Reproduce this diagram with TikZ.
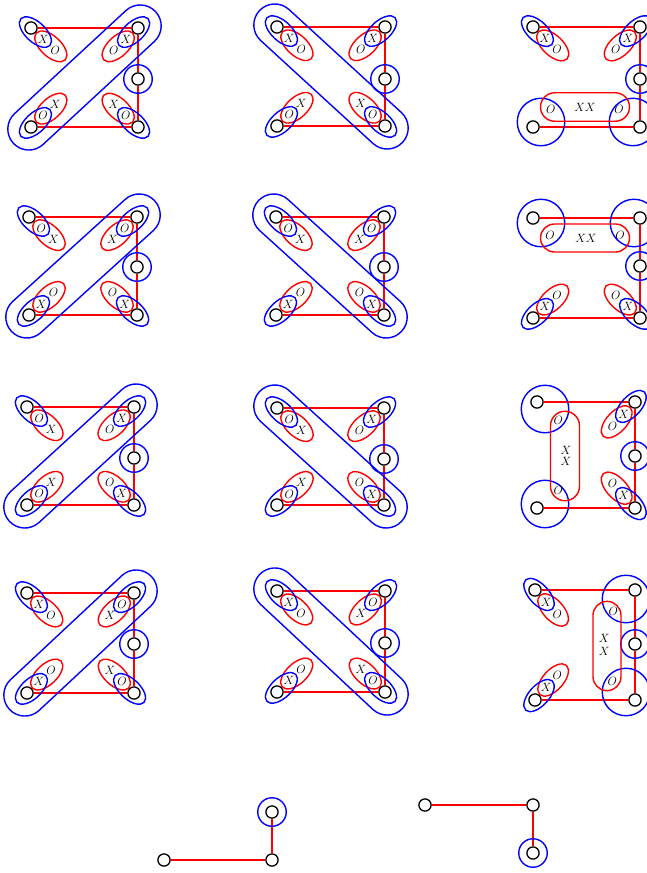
\documentclass[tikz,border=0pt]{standalone}
\usetikzlibrary{calc,shapes.geometric,shapes.misc}
\tikzset{
 vtx/.style={circle, draw=black, fill=white, line width=1.3pt, minimum size=12.2pt, inner sep=0pt},
 redge/.style={draw=red, line width=1.4pt},
 redell/.style={ellipse, draw=red, line width=1.4pt, minimum width=39.5pt, minimum height=20.5pt, inner sep=0pt},
 blueell/.style={ellipse, draw=blue, line width=1.4pt, minimum width=39.5pt, minimum height=20pt, inner sep=0pt},
 bigstad/.style={rounded rectangle, draw=blue, line width=1.4pt, minimum height=42pt, inner sep=0pt},
 redstad/.style={rounded rectangle, draw=red, line width=1.4pt, inner sep=0pt},
 bluecirc/.style={circle, draw=blue, line width=1.4pt, inner sep=0pt},
 midcirc/.style={bluecirc, minimum size=28.5pt},
 bigcirc/.style={bluecirc, minimum size=47.5pt},
 lab/.style={inner sep=0pt, font=\fontsize{11.5}{12}\selectfont},
}
% panel: name, xL, xR, yT, yB, xM, yM
\newcommand{\pnl}[7]{%
 \node[vtx] (#1TL) at (#2,#4) {};
 \node[vtx] (#1TR) at (#3,#4) {};
 \node[vtx] (#1M) at (#6,#7) {};
 \node[vtx] (#1BL) at (#2,#5) {};
 \node[vtx] (#1BR) at (#3,#5) {};
 \coordinate (#1C) at ($(#1TL)!0.5!(#1BR)$);
 \draw[redge] (#1TL) -- (#1TR);
 \draw[redge] (#1TR) -- (#1M);
 \draw[redge] (#1M) -- (#1BR);
 \draw[redge] (#1BR) -- (#1BL);
 \node[midcirc] (#1Mc) at (#1M) {};
}
% corner: vertex, centre, near label, far label
\newcommand{\crn}[4]{%
 \path let \p1=($(#2)-(#1)$), \n1={atan2(\y1,\x1)} in
  node[redell, rotate=\n1] (#1r) at ($(#1)!27pt!(#2)$) {}
  node[blueell, rotate=\n1] (#1b) at ($(#1)!6pt!(#2)$) {}
  node[lab] (#1n) at ($(#1)!16.5pt!(#2)$) {$#3$}
  node[lab] (#1f) at ($(#1)!33pt!(#2)$) {$#4$};
}
% big blue stadium from vertex to vertex
\newcommand{\stad}[2]{%
 \path let \p1=($(#2)-(#1)$), \n1={atan2(\y1,\x1)}, \n2={veclen(\x1,\y1)} in
  node[bigstad, rotate=\n1, minimum width=\n2+48pt] (#1#2s) at ($(#1)!0.5!(#2)$) {};
}
\begin{document}
\begin{tikzpicture}[x=1pt,y=-1pt]
\clip (0,0) rectangle (647,873);
\fill[white] (0,0) rectangle (647,873);

% row 1
\pnl{a}{31}{138}{28}{127}{138}{79}
\crn{aTL}{aC}{X}{O}\crn{aTR}{aC}{X}{O}\crn{aBL}{aC}{O}{X}\crn{aBR}{aC}{O}{X}
\stad{aBL}{aTR}

\pnl{b}{277}{385}{27}{126}{385}{79}
\crn{bTL}{bC}{X}{O}\crn{bTR}{bC}{X}{O}\crn{bBL}{bC}{O}{X}\crn{bBR}{bC}{O}{X}
\stad{bTL}{bBR}

\pnl{c}{533}{640}{27}{127}{640}{79}
\crn{cTL}{cC}{X}{O}\crn{cTR}{cC}{X}{O}
\node[bigcirc] (cBLc) at (541,122) {};
\node[bigcirc] (cBRc) at (633,122) {};
\node[redstad, minimum width=89pt, minimum height=28.5pt] (cst) at (585,107) {};
\node[lab] (co1) at (550.7,109.7) {$O$};
\node[lab] (cxx) at (585,107.3) {$XX$};
\node[lab] (co2) at (619,109.7) {$O$};

% row 2
\pnl{d}{29}{137}{217}{315}{137}{267}
\crn{dTL}{dC}{O}{X}\crn{dTR}{dC}{O}{X}\crn{dBL}{dC}{X}{O}\crn{dBR}{dC}{X}{O}
\stad{dBL}{dTR}

\pnl{e}{276}{384}{217}{315}{384}{267}
\crn{eTL}{eC}{O}{X}\crn{eTR}{eC}{O}{X}\crn{eBL}{eC}{X}{O}\crn{eBR}{eC}{X}{O}
\stad{eTL}{eBR}

\pnl{f}{533}{640}{218}{318}{640}{266}
\crn{fBL}{fC}{X}{O}\crn{fBR}{fC}{X}{O}
\node[bigcirc] (fTLc) at (541,223) {};
\node[bigcirc] (fTRc) at (634,223) {};
\node[redstad, minimum width=89pt, minimum height=28pt] (fst) at (585,238) {};
\node[lab] (fo1) at (550,235.3) {$O$};
\node[lab] (fxx) at (586,238.3) {$XX$};
\node[lab] (fo2) at (620,235) {$O$};

% row 3
\pnl{g}{27}{134}{407}{505}{134}{458}
\crn{gTL}{gC}{O}{X}\crn{gTR}{gC}{X}{O}\crn{gBL}{gC}{O}{X}\crn{gBR}{gC}{X}{O}
\stad{gBL}{gTR}

\pnl{h}{277}{384}{408}{505}{384}{459}
\crn{hTL}{hC}{O}{X}\crn{hTR}{hC}{X}{O}\crn{hBL}{hC}{O}{X}\crn{hBR}{hC}{X}{O}
\stad{hTL}{hBR}

\pnl{i}{537}{635}{402}{508}{635}{456}
\crn{iTR}{iC}{X}{O}\crn{iBR}{iC}{X}{O}
\node[bigcirc] (iTLc) at (545,409) {};
\node[bigcirc] (iBLc) at (545,504) {};
\node[redstad, rotate=90, minimum width=89.5pt, minimum height=29pt] (ist) at (565,456) {};
\node[lab] (io1) at (558.3,420) {$O$};
\node[lab] (ix1) at (566,450.7) {$X$};
\node[lab] (ix2) at (566,461) {$X$};
\node[lab] (io2) at (558.3,490.7) {$O$};

% row 4
\pnl{j}{27}{134}{593}{693}{134}{644}
\crn{jTL}{jC}{X}{O}\crn{jTR}{jC}{O}{X}\crn{jBL}{jC}{X}{O}\crn{jBR}{jC}{O}{X}
\stad{jBL}{jTR}

\pnl{k}{277}{385}{591}{692}{385}{643}
\crn{kTL}{kC}{X}{O}\crn{kTR}{kC}{O}{X}\crn{kBL}{kC}{X}{O}\crn{kBR}{kC}{O}{X}
\stad{kTL}{kBR}

\pnl{l}{535}{635}{590}{700}{635}{644}
\crn{lTL}{lC}{X}{O}\crn{lBL}{lC}{X}{O}
\node[bigcirc] (lTRc) at (626,599) {};
\node[bigcirc] (lBRc) at (626,692) {};
\node[redstad, rotate=90, minimum width=89.3pt, minimum height=28pt] (lst) at (607,646) {};
\node[lab] (lo1) at (613.3,611) {$O$};
\node[lab] (lx1) at (604.3,638.3) {$X$};
\node[lab] (lx2) at (604.3,651) {$X$};
\node[lab] (lo2) at (612.3,681) {$O$};

% bottom graphs
\node[vtx] (p1) at (164,860) {};
\node[vtx] (p2) at (272,860) {};
\node[vtx] (p3) at (272,812) {};
\draw[redge] (p1) -- (p2);
\draw[redge] (p2) -- (p3);
\node[midcirc] (p3c) at (p3) {};

\node[vtx] (q1) at (425,805) {};
\node[vtx] (q2) at (533,805) {};
\node[vtx] (q3) at (533,853) {};
\draw[redge] (q1) -- (q2);
\draw[redge] (q2) -- (q3);
\node[midcirc] (q3c) at (q3) {};
\end{tikzpicture}
\end{document}
